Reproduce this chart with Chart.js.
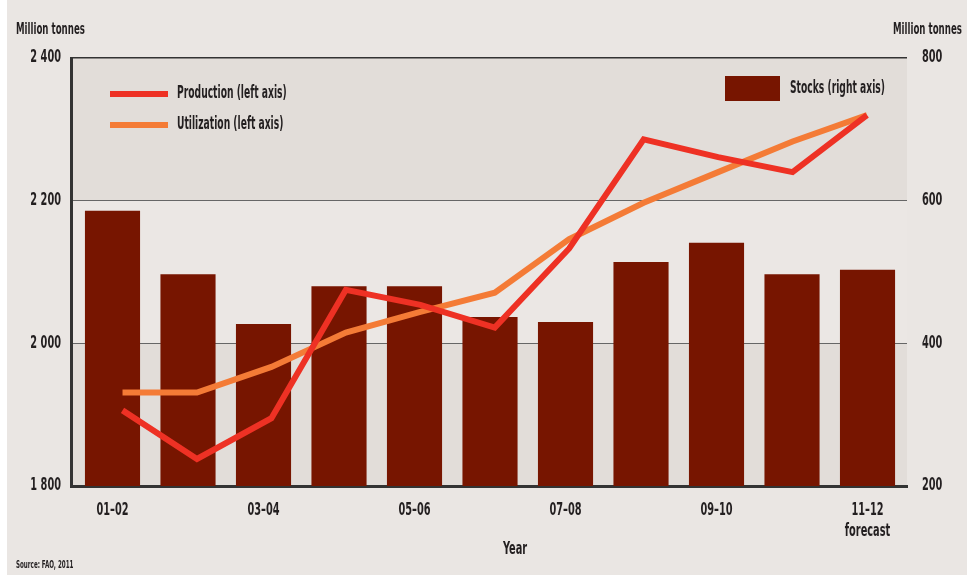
<!DOCTYPE html>
<html>
<head>
<meta charset="utf-8">
<script src="https://cdn.jsdelivr.net/npm/chart.js@4.4.1/dist/chart.umd.min.js"></script>
<style>
  html, body { margin: 0; padding: 0; background: #eae6e3; }
  #wrap { width: 967px; height: 575px; position: relative; }
</style>
</head>
<body>
<div id="wrap"><canvas id="c" width="967" height="575"></canvas></div>
<script>
// ---- Data ----
const categories = ["01–02", "02–03", "03–04", "04–05", "05–06", "06–07", "07–08", "08–09", "09–10", "10–11", ["11–12", "forecast"]];
const stocksValues = [586, 497, 427, 480, 480, 437, 430, 514, 541, 497, 503];
const productionValues = [1906, 1838, 1895, 2075, 2054, 2022, 2133, 2286, 2261, 2240, 2320];
const utilizationValues = [1931, 1931, 1967, 2015, 2044, 2071, 2146, 2197, 2240, 2283, 2320];
const leftTicks = [1800, 2000, 2200, 2400];
const rightTicks = [200, 400, 600, 800];

const FONT = "'DejaVu Sans Condensed', 'DejaVu Sans', sans-serif";
const TEXT = '#231f20';

function fmtThousands(v) {
  if (v >= 1000) return Math.floor(v / 1000) + ' ' + String(v % 1000).padStart(3, '0');
  return String(v);
}

// condensed text helper (horizontal squeeze to mimic a condensed face)
function ctext(ctx, str, x, y, size, align, sx) {
  ctx.save();
  ctx.font = 'bold ' + size + 'px ' + FONT;
  ctx.textBaseline = 'middle';
  ctx.textAlign = align;
  ctx.fillStyle = TEXT;
  ctx.translate(x, y);
  ctx.scale(sx || 0.64, 1);
  ctx.fillText(str, 0, 0);
  ctx.restore();
}

const decor = {
  id: 'decor',
  beforeDraw(chart) {
    const { ctx, chartArea: a, scales } = chart;
    const y = scales.y;
    ctx.save();
    ctx.fillStyle = '#eae6e3';
    ctx.fillRect(0, 0, chart.width, chart.height);
    ctx.fillStyle = '#ffffff';
    ctx.fillRect(0, 0, 7, chart.height);
    const bands = [[2400, 2200, '#e2ddd9'], [2200, 2000, '#ebe7e4'], [2000, 1800, '#e2ddd9']];
    bands.forEach(([t, b, c]) => {
      const yt = y.getPixelForValue(t), yb = y.getPixelForValue(b);
      ctx.fillStyle = c;
      ctx.fillRect(a.left, yt, a.right - a.left, yb - yt);
    });
    ctx.restore();
  },
  afterDraw(chart) {
    const { ctx, chartArea: a, scales } = chart;

    // axis tick labels
    scales.y.ticks.forEach(t => ctext(ctx, fmtThousands(t.value), a.left - 10, scales.y.getPixelForValue(t.value), 17, 'right'));
    scales.y2.ticks.forEach(t => ctext(ctx, String(t.value), a.right + 15, scales.y2.getPixelForValue(t.value), 17, 'left'));
    categories.forEach((c, i) => {
      if (i % 2 !== 0) return;
      const lines = Array.isArray(c) ? c : [c];
      const px = scales.xb.getPixelForValue(i);
      lines.forEach((l, k) => ctext(ctx, l, px, 511 + k * 21, 17, 'center'));
    });

    // titles
    ctext(ctx, 'Million tonnes', 16, 30, 16, 'left', 0.6);
    ctext(ctx, 'Million tonnes', 893, 30, 16, 'left', 0.6);
    ctext(ctx, 'Year', (a.left + a.right) / 2 + 26, 550, 17, 'center');
    ctext(ctx, 'Source: FAO, 2011', 16, 565, 10, 'left', 0.62);

    // legend
    const ds = chart.data.datasets;
    [ds[1], ds[2]].forEach((d, i) => {
      const yy = 94 + i * 31;
      ctx.save();
      ctx.strokeStyle = d.borderColor;
      ctx.lineWidth = 6;
      ctx.beginPath();
      ctx.moveTo(110, yy);
      ctx.lineTo(168, yy);
      ctx.stroke();
      ctx.restore();
      ctext(ctx, d.label, 177, yy, 17, 'left', 0.6);
    });
    ctx.save();
    ctx.fillStyle = ds[0].backgroundColor;
    ctx.fillRect(725, 76, 55, 25);
    ctx.restore();
    ctext(ctx, ds[0].label, 790, 89, 17, 'left', 0.6);
  }
};

new Chart(document.getElementById('c'), {
  data: {
    labels: categories,
    datasets: [
      {
        type: 'bar',
        label: 'Stocks (right axis)',
        data: stocksValues.map((v, i) => ({ x: i, y: v })),
        yAxisID: 'y2',
        xAxisID: 'xb',
        backgroundColor: '#771500',
        borderWidth: 0,
        barPercentage: 0.73,
        categoryPercentage: 1.0,
        grouped: false,
        order: 3
      },
      {
        type: 'line',
        label: 'Production (left axis)',
        data: productionValues.map((v, i) => ({ x: i, y: v })),
        yAxisID: 'y',
        xAxisID: 'xl',
        borderColor: '#ee3124',
        borderWidth: 6,
        borderJoinStyle: 'miter',
        borderCapStyle: 'butt',
        pointRadius: 0,
        tension: 0,
        fill: false,
        order: 1
      },
      {
        type: 'line',
        label: 'Utilization (left axis)',
        data: utilizationValues.map((v, i) => ({ x: i, y: v })),
        yAxisID: 'y',
        xAxisID: 'xl',
        borderColor: '#f47b36',
        borderWidth: 6,
        borderJoinStyle: 'miter',
        borderCapStyle: 'butt',
        pointRadius: 0,
        tension: 0,
        fill: false,
        order: 2
      }
    ]
  },
  options: {
    responsive: false,
    animation: false,
    devicePixelRatio: 1,
    layout: { padding: { top: 58, left: 0, right: 0, bottom: 0 } },
    plugins: { legend: { display: false }, tooltip: { enabled: false } },
    scales: {
      x: {
        type: 'category',
        offset: true,
        grid: { display: false, drawTicks: false },
        border: { display: true, width: 3, color: '#333' },
        ticks: { display: false, autoSkip: false },
        afterFit(s) { s.height = 89; }
      },
      xb: {
        type: 'linear',
        display: false,
        offset: false,
        grid: { offset: false },
        min: -0.5497,
        max: 10.523
      },
      xl: {
        type: 'linear',
        display: false,
        offset: false,
        min: -0.692,
        max: 10.537
      },
      y: {
        type: 'linear',
        position: 'left',
        min: 1800,
        max: 2400,
        afterBuildTicks(s) { s.ticks = leftTicks.map(v => ({ value: v })); },
        grid: {
          drawTicks: false,
          color: (c) => c.tick && c.tick.value === 2400 ? '#333' : (c.tick && c.tick.value === 1800 ? 'rgba(0,0,0,0)' : '#666'),
          lineWidth: (c) => c.tick && c.tick.value === 2400 ? 1.5 : 1
        },
        border: { display: true, width: 3, color: '#333' },
        ticks: { display: false },
        afterFit(s) { s.width = 71; }
      },
      y2: {
        type: 'linear',
        position: 'right',
        min: 200,
        max: 800,
        afterBuildTicks(s) { s.ticks = rightTicks.map(v => ({ value: v })); },
        grid: { display: false, drawTicks: false },
        border: { display: false },
        ticks: { display: false },
        afterFit(s) { s.width = 60; }
      }
    }
  },
  plugins: [decor]
});
</script>
</body>
</html>
